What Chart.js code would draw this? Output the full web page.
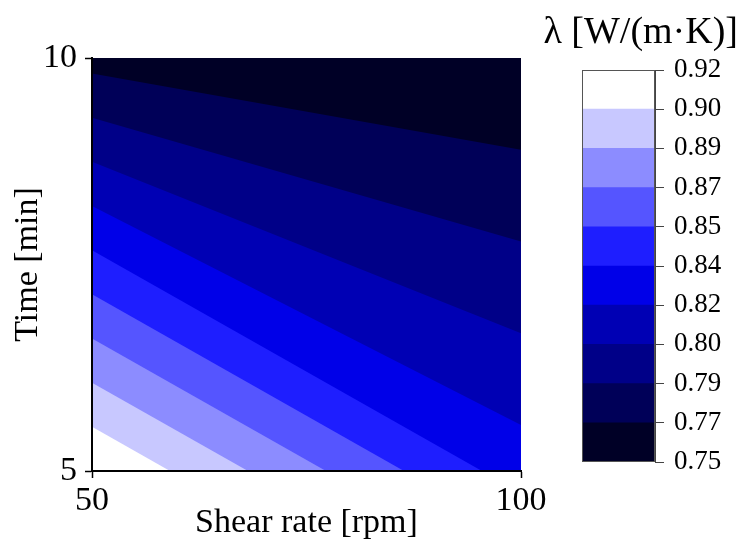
<!DOCTYPE html>
<html>
<head>
<meta charset="utf-8">
<title>Thermal conductivity contour</title>
<script src="https://cdn.jsdelivr.net/npm/chart.js@4.4.1/dist/chart.umd.min.js"></script>
<style>
  html, body { margin: 0; padding: 0; background: #fff; }
  #wrap { position: relative; width: 742px; height: 543px; }
  #wrap canvas { position: absolute; left: 0; top: 0; }
  #cbTitle {
    position: absolute; right: 4px; top: 8px; line-height: 44px;
    font: 38px "Liberation Serif", "Times New Roman", serif; white-space: nowrap; color: #000;
  }
</style>
</head>
<body>
<div id="wrap">
  <canvas id="contourChart" width="742" height="543"></canvas>
  <canvas id="colorbarChart" width="742" height="543"></canvas>
  <div id="cbTitle">λ [W/(m·K)]</div>
</div>
<script>
// ---- data (2 x 2 design) ----
const shearRate = [50, 100];      // rpm
const timeMin = [5, 10];          // min
const lambdaAt5 = [0.9200, 0.8276];
const lambdaAt10 = [0.7629, 0.7520];

const xTicks = [50, 100];
const yTicks = [5, 10];

// contour levels + colorbar labels
const levels = [0.752, 0.7688, 0.7856, 0.8024, 0.8192, 0.836, 0.8528, 0.8696, 0.8864, 0.9032, 0.92];
const levelLabels = ['0.75', '0.77', '0.79', '0.80', '0.82', '0.84', '0.85', '0.87', '0.89', '0.90', '0.92'];
const bandColors = ['#000026', '#000058', '#000088', '#0000b4', '#0000e8',
                    '#1e1eff', '#5555ff', '#8c8cff', '#c8c8ff', '#ffffff'];

Chart.defaults.font.family = '"Liberation Serif", "Times New Roman", serif';
Chart.defaults.color = '#000';

const lambdaGrid = [lambdaAt5, lambdaAt10];
const gridNodes = [];
timeMin.forEach((t, j) => shearRate.forEach((s, i) => gridNodes.push({ x: s, y: t, v: lambdaGrid[j][i] })));

// keep the part of a grid cell where value >= c (edges linearly interpolated)
function clipPoly(pts, c) {
  const out = [];
  for (let i = 0; i < pts.length; i++) {
    const a = pts[i], b = pts[(i + 1) % pts.length];
    const inA = a.v >= c, inB = b.v >= c;
    if (inA) out.push(a);
    if (inA !== inB) {
      const t = (c - a.v) / (b.v - a.v);
      out.push({ x: a.x + t * (b.x - a.x), y: a.y + t * (b.y - a.y), v: c });
    }
  }
  return out;
}

// ========== filled contours ==========
const contourPlugin = {
  id: 'contourFill',
  beforeDraw(chart) {
    const { ctx, chartArea, scales } = chart;
    const xs = scales.x, ys = scales.y;
    ctx.save();
    ctx.beginPath();
    ctx.rect(chartArea.left, chartArea.top, chartArea.width, chartArea.height);
    ctx.clip();
    ctx.fillStyle = bandColors[0];
    ctx.fillRect(chartArea.left, chartArea.top, chartArea.width, chartArea.height);

    const node = (i, j) => ({
      x: xs.getPixelForValue(shearRate[i]),
      y: ys.getPixelForValue(timeMin[j]),
      v: lambdaGrid[j][i]
    });

    for (let k = 1; k < bandColors.length; k++) {
      ctx.beginPath();
      for (let j = 0; j < timeMin.length - 1; j++) {
        for (let i = 0; i < shearRate.length - 1; i++) {
          const poly = clipPoly([node(i, j), node(i + 1, j), node(i + 1, j + 1), node(i, j + 1)], levels[k]);
          if (poly.length < 3) continue;
          ctx.moveTo(poly[0].x, poly[0].y);
          for (let n = 1; n < poly.length; n++) ctx.lineTo(poly[n].x, poly[n].y);
          ctx.closePath();
        }
      }
      ctx.fillStyle = bandColors[k];
      ctx.fill();
    }
    ctx.restore();
  }
};

new Chart(document.getElementById('contourChart'), {
  type: 'scatter',
  data: { datasets: [{ data: gridNodes, pointRadius: 0 }] },
  options: {
    responsive: false,
    animation: false,
    layout: { padding: { top: 58, right: 221, bottom: 0, left: 0 } },
    plugins: { legend: { display: false }, tooltip: { enabled: false } },
    scales: {
      x: {
        type: 'linear', min: 50, max: 100,
        afterBuildTicks: s => { s.ticks = xTicks.map(v => ({ value: v })); },
        afterFit: s => { s.height = 72; },
        grid: { drawOnChartArea: false, tickLength: 7, tickColor: '#000', tickWidth: 1.5 },
        border: { color: '#000', width: 2 },
        ticks: { font: { size: 34 }, padding: 3, maxRotation: 0 },
        title: { display: true, text: 'Shear rate [rpm]', font: { size: 34 }, padding: { top: 0, bottom: 0 } }
      },
      y: {
        type: 'linear', min: 5, max: 10,
        afterBuildTicks: s => { s.ticks = yTicks.map(v => ({ value: v })); },
        afterFit: s => { s.width = 92; },
        grid: { drawOnChartArea: false, tickLength: 7, tickColor: '#000', tickWidth: 1.5 },
        border: { color: '#000', width: 2 },
        ticks: { font: { size: 34 }, padding: 8 },
        title: { display: true, text: 'Time [min]', font: { size: 34 }, padding: { top: 8, bottom: 0 } }
      }
    }
  },
  plugins: [contourPlugin]
});

// ========== colorbar ==========
const framePlugin = {
  id: 'cbFrame',
  afterDatasetsDraw(chart) {
    const { ctx, chartArea: a } = chart;
    ctx.save();
    ctx.strokeStyle = '#555';
    ctx.lineWidth = 1;
    ctx.strokeRect(a.left + 0.5, a.top + 0.5, a.width - 1, a.height - 1);
    ctx.restore();
  }
};

new Chart(document.getElementById('colorbarChart'), {
  type: 'bar',
  data: {
    labels: [''],
    datasets: bandColors.map((col, k) => ({
      data: [[levels[k], levels[k + 1]]],
      backgroundColor: col,
      borderWidth: 0,
      barPercentage: 1,
      categoryPercentage: 1
    }))
  },
  options: {
    responsive: false,
    animation: false,
    layout: { padding: { left: 582, top: 70, bottom: 81, right: 0 } },
    plugins: { legend: { display: false }, tooltip: { enabled: false } },
    scales: {
      x: { display: false, stacked: true },
      y: {
        position: 'right',
        min: levels[0], max: levels[levels.length - 1],
        afterBuildTicks: s => { s.ticks = levels.map(v => ({ value: v })); },
        afterFit: s => { s.width = 87; },
        grid: { drawOnChartArea: false, tickLength: 9, tickColor: '#444', tickWidth: 1 },
        border: { color: '#444', width: 1 },
        ticks: { font: { size: 27 }, padding: 10, autoSkip: false, callback: (v, i) => levelLabels[i] }
      }
    }
  },
  plugins: [framePlugin]
});
</script>
</body>
</html>
